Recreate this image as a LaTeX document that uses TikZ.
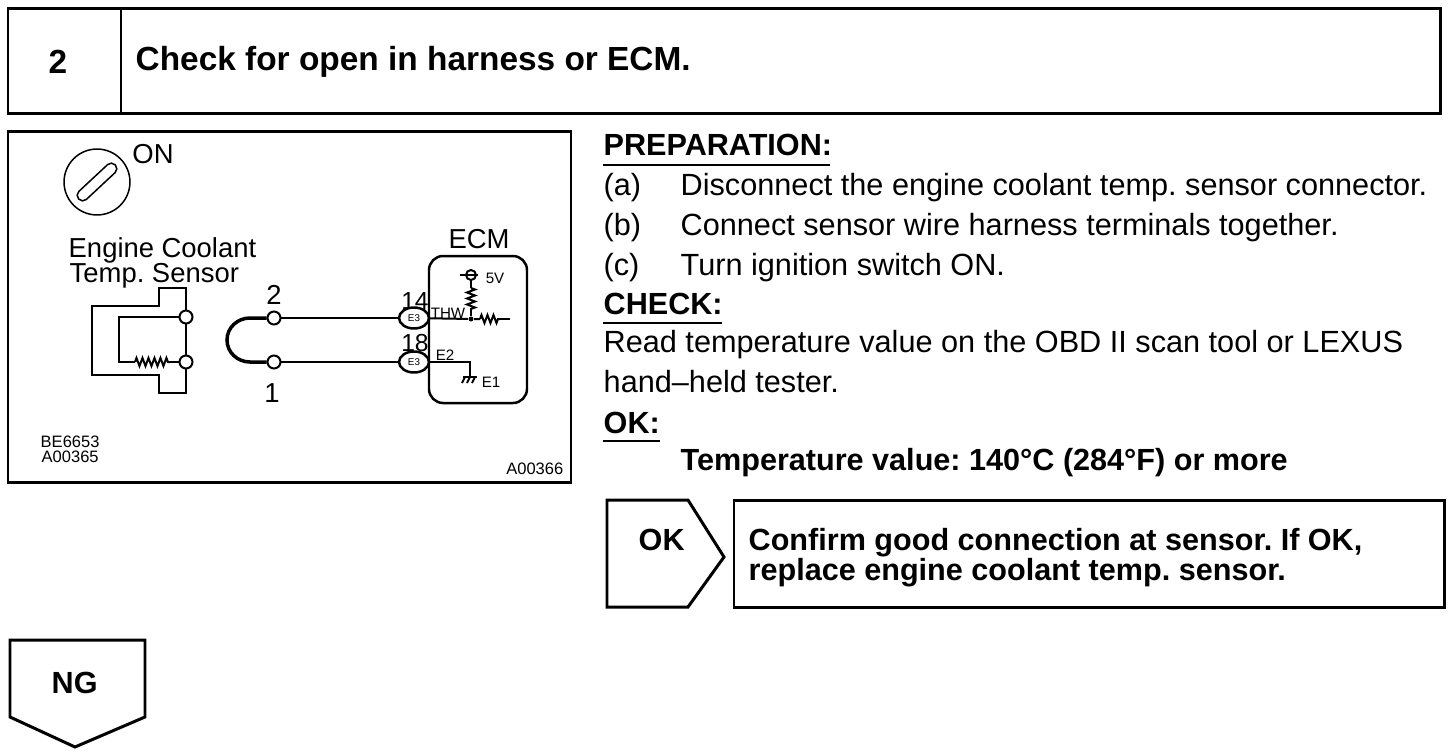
\documentclass[tikz,border=0pt]{standalone}
\usepackage{fontspec}
\setmainfont{Liberation Sans}
\usetikzlibrary{positioning,calc,decorations.pathmorphing,shapes.geometric}
\tikzset{
  boxline/.style={line width=3pt*0.284},
  wire/.style={line width=2pt*0.284},
  bodytext/.style={anchor=base west,inner sep=0pt,font=\fontsize{8.72}{11}\selectfont},
  headtext/.style={anchor=base west,inner sep=0pt,font=\fontsize{8.7}{11}\selectfont\bfseries},
  titletext/.style={anchor=base west,inner sep=0pt,font=\fontsize{9.5}{11}\selectfont\bfseries},
  figtext/.style={inner sep=0pt,font=\fontsize{7.8}{8}\selectfont},
  pintext/.style={inner sep=0pt,font=\fontsize{7}{8}\selectfont},
  smalltext/.style={inner sep=0pt,font=\fontsize{4.3}{5}\selectfont},
  codetext/.style={inner sep=0pt,font=\fontsize{4.7}{5}\selectfont},
  terminal/.style={circle,draw,fill=white,wire,inner sep=0pt,minimum size=13*0.284pt},
  plug/.style={ellipse,draw,fill=white,line width=2.5pt*0.284,inner sep=0pt,minimum width=30*0.284pt,minimum height=21*0.284pt,font=\fontsize{2.8}{3}\selectfont},
  resistor/.style={wire,decorate,decoration={zigzag,segment length=6*0.284pt,amplitude=4*0.284pt}},
}
\begin{document}
\frenchspacing
\begin{tikzpicture}[x=.01cm,y=-.01cm]
    \useasboundingbox (0,0) rectangle (1456,754);

    % Header
    \draw[boxline] (8,8) rectangle (1440,113);
    \draw[boxline] (121,8) -- (121,113);
    \node[titletext] (stepno) at (48,73) {2};
    \node[titletext] (title) at (135,70) {Check for open in harness or ECM.};

    % Figure frame
    \draw[boxline] (8,131) rectangle (571,482);

    % Ignition switch
    \node[circle,draw,line width=1.5pt*0.284,minimum size=66*0.284pt,inner sep=0pt] (switch) at (97,182) {};
    \node[draw,line width=1.5pt*0.284,rounded corners=1.5pt,rotate=43,minimum width=50*0.284pt,minimum height=11*0.284pt,inner sep=0pt] (key) at (97,182) {};
    \node[figtext] (on) at (153,154) {ON};

    % Sensor
    \node[figtext,anchor=base west] (sensor1) at (68,257) {Engine Coolant};
    \node[figtext,anchor=base west] (sensor2) at (69,282) {Temp. Sensor};
    \draw[wire] (159,288) -- (186,288) -- (186,393) -- (159,393) -- (159,375)
      -- (92,375) -- (92,306) -- (159,306) -- cycle;
    \node[terminal] (s2) at (186,317) {};
    \node[terminal] (s1) at (186,362) {};
    \coordinate (r1) at (135,362);
    \coordinate (r2) at (170,362);
    \draw[wire] (s2) -- (119,317) -- (119,362) -- (r1);
    \draw[resistor] (r1) -- (r2);
    \draw[wire] (r2) -- (s1);

    % Harness
    \node[terminal] (h2) at (274,318) {};
    \node[terminal] (h1) at (274,362) {};
    \draw[line width=3.5pt*0.284] (h2) -- (250,318) to[out=180,in=90] (227,340) to[out=-90,in=180] (250,362) -- (h1);
    \node[figtext] (no2) at (274,295) {2};
    \node[figtext] (no1) at (272,393) {1};

    % ECM
    \node[figtext] (ecm) at (479,239) {ECM};
    \draw[line width=2.5pt*0.284,rounded corners=4pt] (429,256) rectangle (527,403);
    \node[plug] (e14) at (414,318) {E3};
    \node[plug] (e18) at (414,362) {E3};
    \draw[wire] (h2) -- (e14);
    \draw[wire] (h1) -- (e18);
    \node[pintext] (no14) at (415,301) {14};
    \node[pintext] (no18) at (415,343) {18};
    \node[smalltext] (thw) at (448,313) {THW};
    \node[smalltext] (e2) at (445,355) {E2};
    \node[smalltext] (e1) at (491,382) {E1};
    \node[smalltext] (v5) at (495,278) {5V};

    % 5V pull up
    \node[circle,draw,wire,inner sep=0pt,minimum size=10*0.284pt] (vcc) at (471,275) {};
    \draw[wire] (460,275) -- (478,275);
    \node[circle,fill,inner sep=0pt,minimum size=5*0.284pt] (thwdot) at (471,319) {};
    \coordinate (u1) at (471,288);
    \coordinate (u2) at (471,311);
    \draw[wire] (vcc) -- (u1);
    \draw[resistor] (u1) -- (u2);
    \draw[wire] (u2) -- (thwdot);
    \coordinate (t1) at (480,319);
    \coordinate (t2) at (500,319);
    \draw[wire] (e14) -- (thwdot) -- (t1);
    \draw[resistor] (t1) -- (t2);
    \draw[wire] (t2) -- (510,319);

    % Ground
    \draw[wire] (e18) -- (470,362) -- (470,376);
    \draw[wire] (463,377) -- (477,377);
    \foreach \x in {465, 470, 475}
    \draw[wire] (\x,377) -- (\x-3,383);

    % Figure codes
    \node[codetext,anchor=base west] (code1) at (40,447) {BE6653};
    \node[codetext,anchor=base west] (code2) at (41,462) {A00365};
    \node[codetext,anchor=base east] (code3) at (564,474) {A00366};

    % Preparation
    \node[headtext] (prep) at (603,155) {PREPARATION:};
    \draw[wire] (603,165) -- (830,165);
    \foreach \y/\m/\t in {195/(a)/Disconnect the engine coolant temp. sensor connector.,
                          235/(b)/Connect sensor wire harness terminals together.,
                          275/(c)/Turn ignition switch ON.} {
      \node[bodytext] at (603,\y) {\m};
      \node[bodytext] at (680,\y) {\t};
    }

    % Check
    \node[headtext] (check) at (603,314) {CHECK:};
    \draw[wire] (603,323) -- (722,323);
    \node[bodytext] (read1) at (603,352) {Read temperature value on the OBD II scan tool or LEXUS};
    \node[bodytext] (read2) at (603,392) {hand--held tester.};
    \node[headtext] (ok) at (603,433) {OK:};
    \draw[wire] (603,441) -- (660,441);
    \node[headtext] (temp) at (680,470) {Temperature value: 140°C (284°F) or more};

    % OK branch
    \draw[boxline] (607,500) -- (688,500) -- (724,557) -- (688,607) -- (607,607) -- cycle;
    \node[headtext] (oktag) at (638,550) {OK};
    \draw[boxline] (734,500) rectangle (1444,607);
    \node[headtext] (fix1) at (748,550) {Confirm good connection at sensor. If OK,};
    \node[headtext] (fix2) at (748,580) {replace engine coolant temp. sensor.};

    % NG branch
    \draw[boxline] (10,640) -- (145,640) -- (145,717) -- (75,747) -- (10,717) -- cycle;
    \node[headtext] (ngtag) at (51,693) {NG};
\end{tikzpicture}
\end{document}
